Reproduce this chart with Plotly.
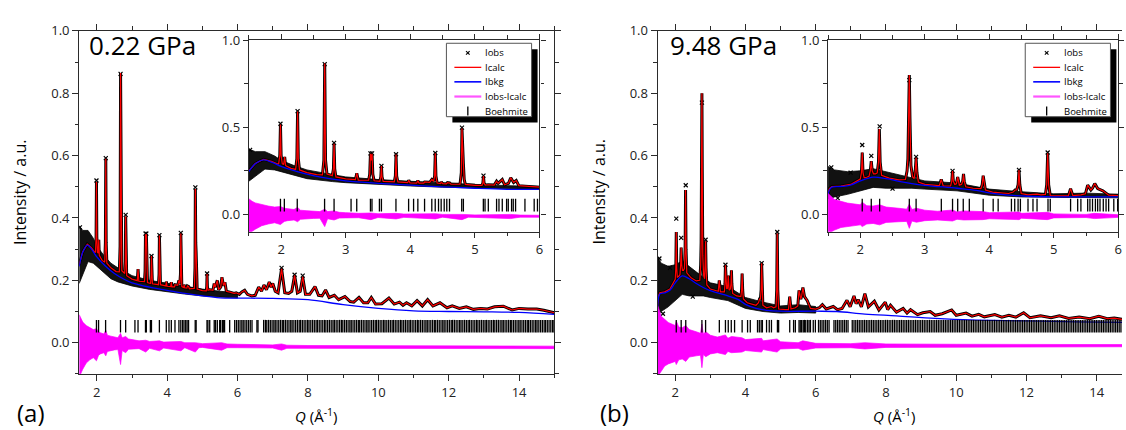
import plotly.graph_objects as go

W, H = 1126, 430

# ======================= DATA : panel (a) 0.22 GPa =======================
A_LABEL = "0.22 GPa"
A_BKG_Q = [1.50, 1.60, 1.73, 1.85, 2.00, 2.25, 2.50, 2.75, 3.00, 3.50, 4.00, 4.50, 5.00, 5.50,
           6.00, 7.00, 8.00, 9.00, 10.0, 11.0, 12.0, 13.0, 14.0, 15.0]
A_BKG_I = [0.245, 0.290, 0.313, 0.300, 0.275, 0.245, 0.222, 0.205, 0.192, 0.178, 0.168, 0.158, 0.150, 0.144,
           0.143, 0.142, 0.138, 0.122, 0.110, 0.102, 0.100, 0.099, 0.097, 0.091]

A_CALC = [(1.50, 0.250), (1.60, 0.292), (1.73, 0.316), (1.85, 0.304), (1.94, 0.290),
          (1.962, 0.290), (1.980, 0.34), (1.990, 0.515), (2.000, 0.34), (2.018, 0.290),
          (2.040, 0.287), (2.055, 0.330), (2.070, 0.280), (2.15, 0.264),
          (2.225, 0.258), (2.244, 0.32), (2.255, 0.590), (2.266, 0.32), (2.285, 0.255),
          (2.40, 0.240), (2.55, 0.228),
          (2.640, 0.227), (2.662, 0.31), (2.675, 0.865), (2.688, 0.31), (2.710, 0.231),
          (2.792, 0.222), (2.810, 0.26), (2.820, 0.405), (2.830, 0.26), (2.848, 0.215),
          (3.00, 0.204), (3.150, 0.199), (3.172, 0.236), (3.194, 0.197),
          (3.355, 0.196), (3.372, 0.23), (3.383, 0.348), (3.395, 0.31), (3.408, 0.348), (3.420, 0.23), (3.440, 0.193),
          (3.528, 0.190), (3.544, 0.215), (3.553, 0.278), (3.562, 0.215), (3.580, 0.189),
          (3.752, 0.186), (3.769, 0.22), (3.779, 0.344), (3.789, 0.22), (3.808, 0.186),
          (3.96, 0.182), (3.976, 0.196), (3.995, 0.181), (4.10, 0.180), (4.117, 0.194), (4.135, 0.179),
          (4.21, 0.179), (4.222, 0.186), (4.30, 0.184), (4.333, 0.200),
          (4.360, 0.190), (4.377, 0.22), (4.387, 0.350), (4.397, 0.22), (4.415, 0.180),
          (4.47, 0.177), (4.48, 0.186), (4.50, 0.176), (4.56, 0.175), (4.575, 0.182), (4.61, 0.180), (4.63, 0.173),
          (4.770, 0.174), (4.790, 0.24), (4.800, 0.493), (4.811, 0.32), (4.822, 0.29), (4.835, 0.20), (4.852, 0.172),
          (5.00, 0.167), (5.110, 0.166), (5.124, 0.18), (5.133, 0.220), (5.142, 0.18), (5.160, 0.168),
          (5.21, 0.170), (5.30, 0.168), (5.336, 0.190), (5.36, 0.178), (5.38, 0.185), (5.424, 0.200), (5.46, 0.170),
          (5.52, 0.178), (5.555, 0.210), (5.60, 0.183), (5.64, 0.194), (5.68, 0.165), (5.78, 0.162), (5.90, 0.158),
          (5.96, 0.160), (6.00, 0.158),
          (6.05, 0.155), (6.12, 0.163), (6.20, 0.168), (6.28, 0.155), (6.40, 0.150), (6.50, 0.152), (6.60, 0.178),
          (6.68, 0.165), (6.75, 0.185), (6.82, 0.170), (6.90, 0.195), (6.95, 0.178), (7.00, 0.190), (7.07, 0.165),
          (7.15, 0.160), (7.25, 0.237), (7.34, 0.160), (7.45, 0.158), (7.54, 0.165), (7.62, 0.216), (7.70, 0.160),
          (7.78, 0.165), (7.85, 0.211), (7.93, 0.155), (8.05, 0.155), (8.20, 0.180), (8.30, 0.152), (8.40, 0.150),
          (8.50, 0.169), (8.60, 0.145), (8.75, 0.152), (8.87, 0.138), (9.05, 0.148), (9.20, 0.132), (9.30, 0.130),
          (9.45, 0.145), (9.58, 0.128), (9.70, 0.128), (9.80, 0.145), (9.92, 0.124), (10.10, 0.125), (10.30, 0.143),
          (10.45, 0.124), (10.60, 0.130), (10.70, 0.120), (10.80, 0.128), (10.95, 0.118), (11.10, 0.135),
          (11.25, 0.118), (11.40, 0.138), (11.55, 0.118), (11.75, 0.128), (11.95, 0.112), (12.10, 0.118),
          (12.30, 0.110), (12.50, 0.115), (12.70, 0.107), (12.90, 0.110), (13.10, 0.108), (13.30, 0.115),
          (13.55, 0.117), (13.80, 0.105), (14.00, 0.110), (14.25, 0.108), (14.50, 0.108), (14.70, 0.104), (15.00, 0.096)]

A_OBS_BAND_Q = [1.50, 1.60, 1.75, 1.90, 2.00, 2.20, 2.40, 2.60, 2.80, 3.00, 3.50, 4.00, 4.50, 5.00, 5.50, 6.00]
A_OBS_LO = [0.190, 0.220, 0.260, 0.255, 0.245, 0.225, 0.205, 0.195, 0.188, 0.182, 0.171, 0.163, 0.156, 0.150, 0.146, 0.143]
A_OBS_HI = [0.375, 0.360, 0.360, 0.335, 0.310, 0.280, 0.255, 0.240, 0.228, 0.215, 0.200, 0.190, 0.180, 0.172, 0.165, 0.160]
A_OBS_PTS_Q = [1.52, 1.99, 2.255, 2.675, 2.82, 3.383, 3.408, 3.553, 3.779, 4.387, 4.80, 5.133, 7.25, 7.62, 7.85]
A_OBS_PTS_I = [0.370, 0.520, 0.592, 0.862, 0.410, 0.350, 0.350, 0.278, 0.345, 0.352, 0.498, 0.222, 0.240, 0.218, 0.215]

A_DIFF_Q = [1.50, 1.55, 1.60, 1.70, 1.80, 1.90, 1.99, 2.05, 2.10, 2.20, 2.255, 2.30, 2.40, 2.50, 2.60,
            2.675, 2.72, 2.82, 2.90, 3.00, 3.20, 3.39, 3.50, 3.78, 3.90, 4.39, 4.50, 4.80, 4.90, 5.00,
            5.55, 5.70, 6.00, 7.00, 7.25, 7.40, 8.00, 10.0, 12.0, 15.0]
A_DIFF_HI = [0.090, 0.075, 0.066, 0.055, 0.048, 0.042, 0.045, 0.035, 0.032, 0.028, 0.040, 0.024, 0.021, 0.018,
             0.016, 0.030, 0.016, 0.020, 0.012, 0.010, 0.006, 0.008, 0.004, 0.006, 0.002, 0.004, 0.000, 0.000,
             -0.002, -0.003, 0.000, -0.004, -0.005, -0.007, -0.004, -0.008, -0.009, -0.010, -0.011, -0.011]
A_DIFF_LO = [-0.110, -0.100, -0.085, -0.065, -0.055, -0.048, -0.058, -0.040, -0.036, -0.032, -0.042, -0.028,
             -0.025, -0.023, -0.022, -0.070, -0.025, -0.032, -0.021, -0.020, -0.019, -0.030, -0.018, -0.026,
             -0.017, -0.026, -0.016, -0.030, -0.016, -0.015, -0.024, -0.016, -0.016, -0.017, -0.024, -0.018,
             -0.018, -0.018, -0.019, -0.019]

A_TICKS_LOW = [1.99, 2.05, 2.25, 2.673, 2.82, 3.083, 3.171, 3.383, 3.407, 3.522, 3.553, 3.778, 3.974, 4.051, 4.117,
               4.221, 4.333, 4.386, 4.437, 4.478, 4.525, 4.565, 4.607, 4.796, 4.822, 5.131, 5.157, 5.208, 5.336,
               5.373, 5.424, 5.491, 5.517, 5.568, 5.594, 5.630, 5.775, 5.918, 5.969]
A_TICKS_HIGH = [6.02, 6.07, 6.12, 6.16, 6.21, 6.26, 6.31, 6.36, 6.41, 6.55, 6.58,
                6.74, 6.79, 6.83, 6.88, 6.93, 6.98, 7.03, 7.07, 7.12, 7.17, 7.22, 7.27, 7.31, 7.36, 7.41, 7.46,
                7.51, 7.55, 7.60, 7.65, 7.70, 7.75, 7.79, 7.84, 7.89, 7.94, 7.99, 8.03, 8.08, 8.13, 8.18, 8.23,
                8.27, 8.32, 8.37, 8.42, 8.47, 8.51, 8.56, 8.61, 8.66, 8.71, 8.75, 8.80, 8.85, 8.90, 8.95, 8.99,
                9.04, 9.09, 9.14, 9.19, 9.23, 9.28, 9.33, 9.38, 9.43, 9.47, 9.52, 9.57, 9.62, 9.67, 9.71, 9.76,
                9.81, 9.86, 9.91, 9.95, 10.00, 10.05, 10.10, 10.15, 10.19, 10.24, 10.29, 10.34, 10.39, 10.43,
                10.48, 10.53, 10.58, 10.63, 10.67, 10.72, 10.77, 10.82, 10.87, 10.91, 10.96, 11.01, 11.06, 11.11,
                11.15, 11.20, 11.25, 11.30, 11.35, 11.39, 11.44, 11.49, 11.54, 11.59, 11.63, 11.68, 11.73, 11.78,
                11.83, 11.87, 11.92, 11.97, 12.02, 12.07, 12.11, 12.16, 12.21, 12.26, 12.31, 12.35, 12.40, 12.45,
                12.50, 12.55, 12.59, 12.64, 12.69, 12.74, 12.79, 12.83, 12.88, 12.93, 12.98, 13.03, 13.07, 13.12,
                13.17, 13.22, 13.27, 13.31, 13.36, 13.41, 13.46, 13.51, 13.55, 13.60, 13.65, 13.70, 13.75, 13.79,
                13.84, 13.89, 13.94, 13.99, 14.03, 14.08, 14.13, 14.18, 14.23, 14.27, 14.32, 14.37, 14.42, 14.47,
                14.51, 14.56, 14.61, 14.66, 14.71, 14.75, 14.80, 14.85, 14.90, 14.95, 14.99]

# ======================= DATA : panel (b) 9.48 GPa =======================
B_LABEL = "9.48 GPa"
B_BKG_Q = [1.50, 1.52, 1.56, 1.70, 1.85, 2.00, 2.20, 2.40, 2.60, 2.80, 3.00, 3.50, 3.80, 4.00, 4.30, 4.60,
           5.00, 6.00, 6.60, 7.40, 8.30, 9.40, 10.4, 11.9, 13.4, 14.72]
B_BKG_I = [0.110, 0.140, 0.156, 0.160, 0.168, 0.192, 0.214, 0.205, 0.190, 0.177, 0.167, 0.150, 0.138, 0.123,
           0.110, 0.104, 0.101, 0.101, 0.100, 0.092, 0.086, 0.078, 0.073, 0.070, 0.067, 0.065]

B_CALC = [(1.50, 0.120), (1.52, 0.148), (1.56, 0.160), (1.70, 0.163), (1.85, 0.172), (1.97, 0.197),
          (2.000, 0.203), (2.018, 0.24), (2.030, 0.355), (2.042, 0.24), (2.060, 0.21), (2.100, 0.213),
          (2.135, 0.218), (2.155, 0.25), (2.170, 0.305), (2.185, 0.25), (2.205, 0.232), (2.235, 0.232),
          (2.262, 0.238), (2.282, 0.30), (2.295, 0.49), (2.308, 0.30), (2.330, 0.224),
          (2.45, 0.208), (2.60, 0.198),
          (2.700, 0.200), (2.725, 0.25), (2.738, 0.32), (2.750, 0.55), (2.760, 0.80), (2.770, 0.55), (2.785, 0.28),
          (2.810, 0.215), (2.835, 0.205), (2.852, 0.25), (2.865, 0.325), (2.878, 0.24), (2.900, 0.185),
          (3.00, 0.172), (3.225, 0.165), (3.255, 0.200), (3.285, 0.163),
          (3.400, 0.163), (3.418, 0.19), (3.430, 0.248), (3.443, 0.19), (3.465, 0.172),
          (3.490, 0.175), (3.510, 0.215), (3.535, 0.168),
          (3.570, 0.172), (3.588, 0.19), (3.600, 0.232), (3.612, 0.19), (3.635, 0.158), (3.75, 0.150),
          (3.870, 0.148), (3.890, 0.17), (3.905, 0.222), (3.920, 0.17), (3.940, 0.14),
          (4.05, 0.128), (4.137, 0.126), (4.30, 0.120), (4.37, 0.128), (4.40, 0.140),
          (4.425, 0.14), (4.447, 0.17), (4.460, 0.255), (4.473, 0.17), (4.495, 0.12),
          (4.60, 0.112), (4.677, 0.115), (4.74, 0.116), (4.80, 0.112),
          (4.870, 0.115), (4.890, 0.17), (4.905, 0.350), (4.920, 0.17), (4.945, 0.108),
          (5.15, 0.106), (5.225, 0.106), (5.260, 0.148), (5.295, 0.108), (5.42, 0.112), (5.49, 0.118),
          (5.525, 0.168), (5.575, 0.14), (5.60, 0.15), (5.635, 0.177), (5.68, 0.148), (5.76, 0.135), (5.85, 0.110),
          (6.00, 0.108), (6.10, 0.112), (6.19, 0.122), (6.30, 0.108), (6.50, 0.116), (6.62, 0.106), (6.75, 0.110),
          (6.89, 0.136), (6.98, 0.115), (7.09, 0.150), (7.15, 0.125), (7.21, 0.138), (7.30, 0.115), (7.40, 0.157),
          (7.50, 0.115), (7.67, 0.133), (7.80, 0.105), (7.98, 0.130), (8.05, 0.106), (8.13, 0.120), (8.30, 0.098),
          (8.49, 0.110), (8.60, 0.095), (8.70, 0.106), (8.90, 0.090), (9.05, 0.096), (9.26, 0.100), (9.40, 0.088),
          (9.60, 0.093), (9.87, 0.105), (10.0, 0.088), (10.28, 0.095), (10.45, 0.085), (10.64, 0.091),
          (10.8, 0.083), (11.1, 0.090), (11.3, 0.082), (11.5, 0.088), (11.7, 0.082), (11.92, 0.096), (12.1, 0.080),
          (12.4, 0.086), (12.7, 0.080), (12.94, 0.086), (13.2, 0.078), (13.5, 0.082), (13.8, 0.077),
          (14.06, 0.085), (14.3, 0.077), (14.5, 0.079), (14.72, 0.075)]

B_OBS_BAND_Q = [1.50, 1.60, 1.80, 2.00, 2.20, 2.40, 2.60, 2.80, 3.00, 3.50, 4.00, 4.50, 5.00, 5.50, 6.00]
B_OBS_LO = [0.090, 0.100, 0.115, 0.135, 0.155, 0.150, 0.150, 0.150, 0.145, 0.135, 0.110, 0.100, 0.095, 0.097, 0.095]
B_OBS_HI = [0.275, 0.255, 0.245, 0.250, 0.262, 0.245, 0.228, 0.210, 0.192, 0.180, 0.145, 0.130, 0.118, 0.122, 0.116]
B_OBS_PTS_Q = [1.55, 1.65, 1.85, 2.03, 2.17, 2.30, 2.50, 2.76, 2.865, 3.43, 4.46, 4.905]
B_OBS_PTS_I = [0.270, 0.093, 0.240, 0.398, 0.336, 0.505, 0.148, 0.770, 0.330, 0.250, 0.255, 0.355]

B_DIFF_Q = [1.50, 1.55, 1.60, 1.70, 1.80, 2.00, 2.03, 2.10, 2.20, 2.30, 2.40, 2.60, 2.72, 2.76, 2.80,
            2.87, 3.00, 3.20, 3.43, 3.50, 3.60, 3.90, 4.00, 4.46, 4.50, 4.90, 5.00, 5.50, 5.63, 6.00,
            7.00, 7.40, 8.00, 10.0, 12.0, 14.72]
B_DIFF_HI = [0.120, 0.100, 0.085, 0.075, 0.065, 0.055, 0.070, 0.050, 0.048, 0.055, 0.042, 0.035, 0.030, 0.060,
             0.028, 0.035, 0.024, 0.018, 0.025, 0.014, 0.020, 0.016, 0.010, 0.014, 0.006, 0.012, 0.003, 0.000,
             0.006, -0.002, -0.003, 0.000, -0.004, -0.005, -0.005, -0.006]
B_DIFF_LO = [-0.110, -0.100, -0.090, -0.075, -0.068, -0.060, -0.070, -0.055, -0.052, -0.060, -0.046, -0.042,
             -0.040, -0.080, -0.038, -0.045, -0.036, -0.032, -0.038, -0.028, -0.032, -0.030, -0.025, -0.030,
             -0.022, -0.030, -0.020, -0.018, -0.024, -0.017, -0.016, -0.020, -0.015, -0.014, -0.013, -0.013]

B_TICKS_LOW = [2.03, 2.17, 2.30, 2.76, 2.865, 3.256, 3.43, 3.51, 3.596, 3.69, 3.905, 4.06, 4.137, 4.343, 4.394,
               4.446, 4.482, 4.60, 4.677, 4.74, 4.91, 4.945, 5.26, 5.37, 5.42, 5.525, 5.56, 5.60, 5.645, 5.68,
               5.716, 5.767, 5.81, 5.85]
B_TICKS_HIGH = [5.93, 5.99, 6.08, 6.13, 6.18, 6.23, 6.28, 6.33, 6.38, 6.52, 6.57, 6.62, 6.67, 6.72, 6.77, 6.82,
                6.87, 6.92, 7.04, 7.09, 7.14, 7.19, 7.24, 7.29, 7.34, 7.39, 7.44, 7.49, 7.54, 7.59, 7.64, 7.69,
                7.74, 7.79, 7.84, 7.89, 7.94, 7.99, 8.04, 8.09, 8.14, 8.19, 8.24, 8.29, 8.34, 8.39, 8.44, 8.49,
                8.54, 8.59, 8.64, 8.69, 8.74, 8.79, 8.84, 8.89, 8.94, 8.99, 9.04, 9.09, 9.14, 9.19, 9.24, 9.29,
                9.34, 9.39, 9.44, 9.49, 9.54, 9.59, 9.64, 9.69, 9.74, 9.79, 9.84, 9.89, 9.94, 9.99, 10.04, 10.09,
                10.14, 10.19, 10.24, 10.29, 10.34, 10.39, 10.44, 10.49, 10.54, 10.59, 10.64, 10.69, 10.74, 10.79,
                10.84, 10.89, 10.94, 10.99, 11.04, 11.09, 11.14, 11.19, 11.24, 11.29, 11.34, 11.39, 11.44, 11.49,
                11.54, 11.59, 11.64, 11.69, 11.74, 11.79, 11.84, 11.89, 11.94, 11.99, 12.04, 12.09, 12.14, 12.19,
                12.24, 12.29, 12.34, 12.39, 12.44, 12.49, 12.54, 12.59, 12.64, 12.69, 12.74, 12.79, 12.84, 12.89,
                12.94, 12.99, 13.04, 13.09, 13.14, 13.19, 13.24, 13.29, 13.34, 13.39, 13.44, 13.49, 13.54, 13.59,
                13.64, 13.69, 13.74, 13.79, 13.84, 13.89, 13.94, 13.99, 14.04, 14.09, 14.14, 14.19, 14.24, 14.29,
                14.34, 14.39, 14.44, 14.49, 14.54, 14.59, 14.64, 14.69]

# axis ticks
MAIN_X_TICKS = [2, 4, 6, 8, 10, 12, 14]
MAIN_X_MINOR = [1, 3, 5, 7, 9, 11, 13, 15]
MAIN_Y_TICKS = [0.0, 0.2, 0.4, 0.6, 0.8, 1.0]
MAIN_Y_MINOR = [-0.1, 0.1, 0.3, 0.5, 0.7, 0.9]
INSET_X_TICKS = [2, 3, 4, 5, 6]
INSET_X_MINOR = [1.5, 2.5, 3.5, 4.5, 5.5]
INSET_Y_TICKS = [0.0, 0.5, 1.0]
INSET_Y_MINOR = [0.25, 0.75]
LEGEND_NAMES = ["Iobs", "Icalc", "Ibkg", "Iobs-Icalc", "Boehmite"]

# ======================= STYLE / LAYOUT =======================
FONT = "Open Sans"
AX = "#2b2b2b"
RED, BLUE, MAG = "#ff0000", "#0000ff", "#ff00ff"
TICK_Y = 0.053


def px(x):
    return x / W


def py(y):
    return 1 - y / H


fig = go.Figure()


def add_data(calc, bkg_q, bkg_i, band_q, lo, hi, pts_q, pts_i, dq, dhi, dlo, ticks, xa, ya):
    cq = [c[0] for c in calc]
    ci = [c[1] for c in calc]
    common = dict(xaxis=xa, yaxis=ya, hoverinfo="skip", showlegend=False)
    # noisy cloud of observed points, drawn as its envelope
    fig.add_trace(go.Scatter(x=band_q + band_q[::-1], y=hi + lo[::-1], mode="lines", fill="toself",
                             fillcolor="#111111", line=dict(color="black", width=0.8), **common))
    fig.add_trace(go.Scatter(x=cq, y=ci, mode="lines", line=dict(color="black", width=3), **common))
    fig.add_trace(go.Scatter(x=pts_q, y=pts_i, mode="markers",
                             marker=dict(symbol="x-thin", size=4, line=dict(color="black", width=1.2)), **common))
    fig.add_trace(go.Scatter(x=cq, y=ci, mode="lines", line=dict(color=RED, width=1.2), **common))
    fig.add_trace(go.Scatter(x=bkg_q, y=bkg_i, mode="lines", line=dict(color=BLUE, width=1.3, shape="spline"),
                             **common))
    fig.add_trace(go.Scatter(x=dq + dq[::-1], y=dhi + dlo[::-1], mode="lines", fill="toself", fillcolor=MAG,
                             line=dict(color=MAG, width=0.7), **common))
    fig.add_trace(go.Scatter(x=ticks, y=[TICK_Y] * len(ticks), mode="markers",
                             marker=dict(symbol="line-ns", size=9, line=dict(color="black", width=1.3)), **common))


A_TICKS = A_TICKS_LOW + A_TICKS_HIGH
B_TICKS = B_TICKS_LOW + B_TICKS_HIGH
for xa, ya in (("x", "y"), ("x2", "y2")):
    add_data(A_CALC, A_BKG_Q, A_BKG_I, A_OBS_BAND_Q, A_OBS_LO, A_OBS_HI, A_OBS_PTS_Q, A_OBS_PTS_I,
             A_DIFF_Q, A_DIFF_HI, A_DIFF_LO, A_TICKS, xa, ya)
for xa, ya in (("x3", "y3"), ("x4", "y4")):
    add_data(B_CALC, B_BKG_Q, B_BKG_I, B_OBS_BAND_Q, B_OBS_LO, B_OBS_HI, B_OBS_PTS_Q, B_OBS_PTS_I,
             B_DIFF_Q, B_DIFF_HI, B_DIFF_LO, B_TICKS, xa, ya)


def axis(domain, rng, tv, tt, minor, anchor, ticklen, mirror):
    return dict(domain=domain, range=rng, anchor=anchor, tickmode="array", tickvals=tv, ticktext=tt,
                showline=True, linecolor=AX, linewidth=1.2, mirror=mirror, ticks="outside", ticklen=ticklen,
                tickwidth=1.2, tickcolor=AX, showgrid=False, zeroline=False,
                tickfont=dict(family=FONT, size=13, color="#222"),
                minor=dict(tickmode="array", tickvals=minor, ticks="outside", ticklen=3.5, tickwidth=1,
                           tickcolor=AX, showgrid=False))


mxt = [str(v) for v in MAIN_X_TICKS]
myt = [f"{v:.1f}" for v in MAIN_Y_TICKS]
ixt = [str(v) for v in INSET_X_TICKS]
iyt = [f"{v:.1f}" for v in INSET_Y_TICKS]
main_y_dom = [py(372.7), py(22.3)]
inset_y_dom = [py(227.6), py(31.7)]
A_inset_right = 541.4
B_inset_right = 1122.3

fig.update_layout(
    width=W, height=H, margin=dict(l=0, r=0, t=0, b=0), autosize=False,
    paper_bgcolor="white", plot_bgcolor="white", showlegend=False,
    xaxis=axis([px(79.5), px(556.3)], [1.5, 15], MAIN_X_TICKS, mxt, MAIN_X_MINOR, "y", 6, "ticks"),
    yaxis=axis(main_y_dom, [-0.1, 1.0], MAIN_Y_TICKS, myt, MAIN_Y_MINOR, "x", 6, "ticks"),
    xaxis2=axis([px(249.7), px(A_inset_right)], [1.5, 6], INSET_X_TICKS, ixt, INSET_X_MINOR, "y2", 5, "ticks"),
    yaxis2=axis(inset_y_dom, [-0.1, 1.0], INSET_Y_TICKS, iyt, INSET_Y_MINOR, "x2", 5, "ticks"),
    xaxis3=axis([px(660), 1.0], [1.5, 14.72], MAIN_X_TICKS, mxt, MAIN_X_MINOR, "y3", 6, "ticks"),
    yaxis3=axis(main_y_dom, [-0.1, 1.0], MAIN_Y_TICKS, myt, MAIN_Y_MINOR, "x3", 6, False),
    xaxis4=axis([px(831), px(B_inset_right)], [1.5, 6], INSET_X_TICKS, ixt, INSET_X_MINOR, "y4", 5, "ticks"),
    yaxis4=axis(inset_y_dom, [-0.1, 1.0], INSET_Y_TICKS, iyt, INSET_Y_MINOR, "x4", 5, "ticks"),
)

shapes = []
annotations = []


def txt(x, y, s, size, xanchor="center", angle=0):
    annotations.append(dict(x=px(x), y=py(y), xref="paper", yref="paper", text=s, showarrow=False,
                            xanchor=xanchor, yanchor="middle", textangle=angle,
                            font=dict(family=FONT, size=size, color="black")))


def line(x0, y0, x1, y1, color, width):
    shapes.append(dict(type="line", xref="paper", yref="paper", x0=px(x0), y0=py(y0), x1=px(x1), y1=py(y1),
                       line=dict(color=color, width=width)))


def legend(inset_right):
    x0 = inset_right - 93.4
    x1 = x0 + 85.5
    y0, y1 = 35, 110
    shapes.append(dict(type="rect", xref="paper", yref="paper", x0=px(x0 + 6), x1=px(x1 + 6),
                       y0=py(y1 + 6), y1=py(y0 + 6), fillcolor="black", line=dict(width=0)))
    shapes.append(dict(type="rect", xref="paper", yref="paper", x0=px(x0), x1=px(x1), y0=py(y1), y1=py(y0),
                       fillcolor="white", line=dict(color="#555", width=1)))
    rows = [44.8, 59.6, 74.4, 89.4, 104.2]
    sx0, sx1, sm, tx = x0 + 8, x0 + 35, x0 + 21.5, x0 + 37
    line(sm - 1.8, rows[0] - 1.8, sm + 1.8, rows[0] + 1.8, "black", 1.1)
    line(sm - 1.8, rows[0] + 1.8, sm + 1.8, rows[0] - 1.8, "black", 1.1)
    line(sx0, rows[1], sx1, rows[1], RED, 1.3)
    line(sx0, rows[2], sx1, rows[2], BLUE, 1.6)
    line(sx0, rows[3], sx1, rows[3], "#ff55ff", 2.2)
    line(sm, rows[4] - 4.5, sm, rows[4] + 4.5, "black", 1.3)
    for r, name in zip(rows, LEGEND_NAMES):
        txt(tx, r, name, 9.5, xanchor="left")


legend(A_inset_right)
legend(B_inset_right)

txt(87.5, 37, A_LABEL, 26, xanchor="left")
txt(670, 37, B_LABEL, 26, xanchor="left")
txt(20, 187, "Intensity / a.u.", 16, angle=-90)
txt(601.5, 187, "Intensity / a.u.", 16, angle=-90)
txt(317, 415, "<i>Q</i> (Å<sup>-1</sup>)", 15)
txt(897, 415, "<i>Q</i> (Å<sup>-1</sup>)", 15)
txt(31.5, 412, "(a)", 24)
txt(617, 412, "(b)", 24)

fig.update_layout(shapes=shapes, annotations=annotations)
fig.write_html("out.html", config={"displayModeBar": False},
               post_script="document.body.style.margin='0px';document.body.style.overflow='hidden';")
